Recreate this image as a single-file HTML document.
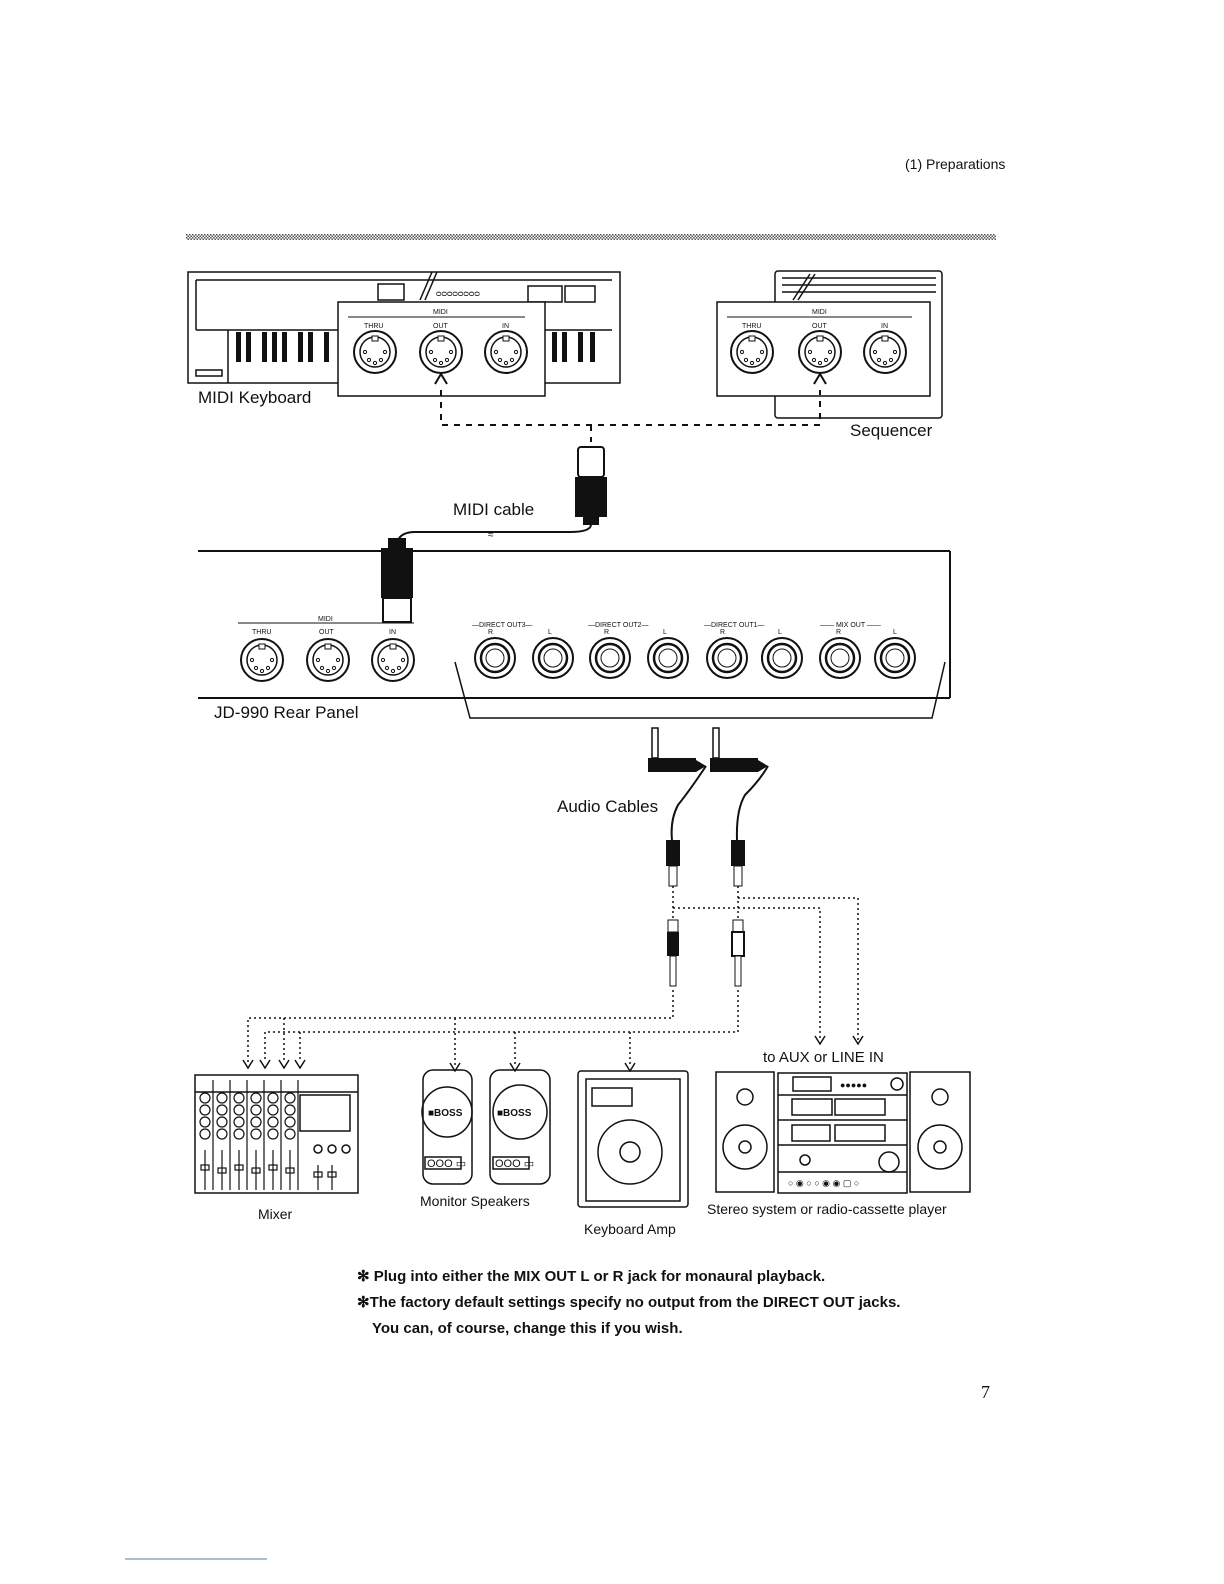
<!DOCTYPE html>
<html><head><meta charset="utf-8"><style>
html,body{margin:0;padding:0;background:#fff;overflow:hidden;width:1224px;height:1584px}
svg{display:block}
text{font-family:"Liberation Sans",sans-serif;fill:#111}
</style></head><body>
<svg width="1224" height="1584" viewBox="0 0 1224 1584" xmlns="http://www.w3.org/2000/svg">
<defs>
<pattern id="hatch" width="3" height="3" patternUnits="userSpaceOnUse"><rect width="3" height="3" fill="#fff"/><rect width="1.5" height="1.5" fill="#555"/><rect x="1.5" y="1.5" width="1.5" height="1.5" fill="#555"/></pattern>
<g id="din"><circle r="21" fill="#fff" stroke="#111" stroke-width="2"/><circle r="15" fill="none" stroke="#111" stroke-width="1.5"/><rect x="-3" y="-16" width="6" height="5" fill="#fff" stroke="#111"/><circle cx="-10" cy="0" r="1.6" fill="none" stroke="#111"/><circle cx="10" cy="0" r="1.6" fill="none" stroke="#111"/><circle cx="-6" cy="8" r="1.6" fill="none" stroke="#111"/><circle cx="6" cy="8" r="1.6" fill="none" stroke="#111"/><circle cx="0" cy="11" r="1.6" fill="none" stroke="#111"/></g>
<g id="jack"><circle r="20" fill="#fff" stroke="#111" stroke-width="2"/><circle r="14" fill="none" stroke="#111" stroke-width="2.5"/><circle r="9" fill="none" stroke="#111" stroke-width="1"/></g>
</defs>
<text x="905" y="169" font-size="14">(1)  Preparations</text>
<rect x="186" y="234" width="810" height="6" fill="url(#hatch)"/>

<g fill="none" stroke="#111" stroke-width="1.5">
<rect x="188" y="272" width="432" height="111"/>
<line x1="196" y1="280" x2="612" y2="280"/><line x1="196" y1="280" x2="196" y2="330"/>
<line x1="196" y1="330" x2="338" y2="330"/>
<rect x="378" y="284" width="26" height="16"/><rect x="528" y="286" width="34" height="16"/><rect x="565" y="286" width="30" height="16"/>
<line x1="228" y1="330" x2="228" y2="383"/>
<rect x="196" y="370" width="26" height="6"/>
<line x1="420" y1="300" x2="432" y2="272"/><line x1="425" y1="300" x2="437" y2="272"/>
<line x1="545" y1="330" x2="612" y2="330"/>
</g>
<g fill="#111">
<rect x="236" y="332" width="5" height="30"/><rect x="246" y="332" width="5" height="30"/><rect x="262" y="332" width="5" height="30"/><rect x="272" y="332" width="5" height="30"/><rect x="282" y="332" width="5" height="30"/><rect x="298" y="332" width="5" height="30"/><rect x="308" y="332" width="5" height="30"/><rect x="324" y="332" width="5" height="30"/>
<rect x="552" y="332" width="5" height="30"/><rect x="562" y="332" width="5" height="30"/><rect x="578" y="332" width="5" height="30"/><rect x="590" y="332" width="5" height="30"/>
</g>
<text x="436" y="296" font-size="9">ᴑᴑᴑᴑᴑᴑᴑᴑ</text>
<rect x="338" y="302" width="207" height="94" fill="#fff" stroke="#111" stroke-width="1.5"/>
<line x1="348" y1="317" x2="525" y2="317" stroke="#111"/>
<text x="433" y="314" font-size="7">MIDI</text>
<text x="364" y="328" font-size="7">THRU</text><text x="433" y="328" font-size="7">OUT</text><text x="502" y="328" font-size="7">IN</text>
<use href="#din" x="375" y="352"/><use href="#din" x="441" y="352"/><use href="#din" x="506" y="352"/>
<text x="198" y="403" font-size="17">MIDI Keyboard</text>

<g fill="none" stroke="#111" stroke-width="1.5">
<rect x="775" y="271" width="167" height="147" rx="3"/>
<line x1="782" y1="278" x2="936" y2="278"/><line x1="782" y1="285" x2="936" y2="285"/><line x1="782" y1="292" x2="936" y2="292"/>
<line x1="793" y1="300" x2="810" y2="274"/><line x1="798" y1="300" x2="815" y2="274"/>
</g>
<rect x="717" y="302" width="213" height="94" fill="#fff" stroke="#111" stroke-width="1.5"/>
<line x1="727" y1="317" x2="912" y2="317" stroke="#111"/>
<text x="812" y="314" font-size="7">MIDI</text>
<text x="742" y="328" font-size="7">THRU</text><text x="812" y="328" font-size="7">OUT</text><text x="881" y="328" font-size="7">IN</text>
<use href="#din" x="752" y="352"/><use href="#din" x="820" y="352"/><use href="#din" x="885" y="352"/>
<text x="850" y="436" font-size="17">Sequencer</text>

<g fill="none" stroke="#111" stroke-width="2" stroke-dasharray="6,6">
<polyline points="441,390 441,425 820,425 820,390"/>
<line x1="591" y1="425" x2="591" y2="442"/>
</g>
<path d="M435,384 L441,374 L447,384 M814,384 L820,374 L826,384" fill="none" stroke="#111" stroke-width="2"/>

<rect x="578" y="447" width="26" height="30" rx="3" fill="#fff" stroke="#111" stroke-width="2"/>
<rect x="575" y="477" width="32" height="40" fill="#111"/>
<rect x="583" y="517" width="16" height="8" fill="#111"/>
<text x="453" y="515" font-size="17">MIDI  cable</text>
<path d="M591,525 Q590,532 570,532 L415,532 Q402,532 398,540" fill="none" stroke="#111" stroke-width="2"/>
<text x="488" y="538" font-size="10">≈</text>

<g fill="none" stroke="#111" stroke-width="2">
<line x1="198" y1="551" x2="950" y2="551"/><line x1="950" y1="551" x2="950" y2="698"/>
<line x1="198" y1="698" x2="950" y2="698"/>
<polyline points="455,662 470,718 932,718 945,662" stroke-width="1.5"/>
</g>
<rect x="388" y="538" width="18" height="10" fill="#111"/>
<rect x="381" y="548" width="32" height="50" fill="#111"/>
<rect x="383" y="598" width="28" height="24" fill="#fff" stroke="#111" stroke-width="2"/>
<line x1="238" y1="623" x2="414" y2="623" stroke="#111"/>
<text x="318" y="621" font-size="7">MIDI</text>
<text x="252" y="634" font-size="7">THRU</text><text x="319" y="634" font-size="7">OUT</text><text x="389" y="634" font-size="7">IN</text>
<use href="#din" x="262" y="660"/><use href="#din" x="328" y="660"/><use href="#din" x="393" y="660"/>
<g font-size="7">
<text x="472" y="627">—DIRECT OUT3—</text><text x="488" y="634">R</text><text x="548" y="634">L</text>
<text x="588" y="627">—DIRECT OUT2—</text><text x="604" y="634">R</text><text x="663" y="634">L</text>
<text x="704" y="627">—DIRECT OUT1—</text><text x="720" y="634">R</text><text x="778" y="634">L</text>
<text x="820" y="627">—— MIX OUT ——</text><text x="836" y="634">R</text><text x="893" y="634">L</text>
</g>
<use href="#jack" x="495" y="658"/><use href="#jack" x="553" y="658"/><use href="#jack" x="610" y="658"/><use href="#jack" x="668" y="658"/><use href="#jack" x="727" y="658"/><use href="#jack" x="782" y="658"/><use href="#jack" x="840" y="658"/><use href="#jack" x="895" y="658"/>
<text x="214" y="718" font-size="17">JD-990  Rear Panel</text>

<g stroke="#111" fill="#fff" stroke-width="1.5">
<rect x="652" y="728" width="6" height="30"/><rect x="713" y="728" width="6" height="30"/>
</g>
<rect x="648" y="758" width="48" height="14" fill="#111"/><rect x="710" y="758" width="48" height="14" fill="#111"/>
<path d="M696,760 L706,766 L696,772 M758,760 L768,766 L758,772" fill="#111"/>
<path d="M706,766 Q690,790 678,805 Q670,820 672,840 M768,766 Q760,780 745,795 Q736,810 737,840" fill="none" stroke="#111" stroke-width="2"/>
<text x="557" y="812" font-size="17">Audio  Cables</text>
<rect x="666" y="840" width="14" height="26" fill="#111"/><rect x="731" y="840" width="14" height="26" fill="#111"/>
<rect x="669" y="866" width="8" height="20" fill="#fff" stroke="#111"/><rect x="734" y="866" width="8" height="20" fill="#fff" stroke="#111"/>
<rect x="668" y="920" width="10" height="12" fill="#fff" stroke="#111"/><rect x="733" y="920" width="10" height="12" fill="#fff" stroke="#111"/>
<rect x="667" y="932" width="12" height="24" fill="#111"/><rect x="732" y="932" width="12" height="24" fill="#fff" stroke="#111" stroke-width="2"/>
<rect x="670" y="956" width="6" height="30" fill="#fff" stroke="#111"/><rect x="735" y="956" width="6" height="30" fill="#fff" stroke="#111"/>

<g fill="none" stroke="#111" stroke-width="1.5" stroke-dasharray="2,3">
<line x1="673" y1="886" x2="673" y2="920"/><line x1="738" y1="886" x2="738" y2="920"/>
<polyline points="673,908 820,908 820,1040"/>
<polyline points="738,898 858,898 858,1040"/>
<polyline points="673,990 673,1018 248,1018 248,1062"/>
<polyline points="738,990 738,1032 265,1032 265,1062"/>
<line x1="284" y1="1018" x2="284" y2="1062"/><line x1="300" y1="1032" x2="300" y2="1062"/>
<line x1="455" y1="1018" x2="455" y2="1065"/><line x1="515" y1="1032" x2="515" y2="1065"/><line x1="630" y1="1032" x2="630" y2="1065"/>
</g>
<g fill="none" stroke="#111" stroke-width="1.5">
<path d="M243,1060 L248,1068 L253,1060 M260,1060 L265,1068 L270,1060 M279,1060 L284,1068 L289,1060 M295,1060 L300,1068 L305,1060 M450,1063 L455,1071 L460,1063 M510,1063 L515,1071 L520,1063 M625,1063 L630,1071 L635,1063 M815,1036 L820,1044 L825,1036 M853,1036 L858,1044 L863,1036"/>
</g>
<text x="763" y="1062" font-size="15">to  AUX  or  LINE  IN</text>

<g fill="none" stroke="#111" stroke-width="1.5">
<rect x="195" y="1075" width="163" height="118"/>
<line x1="195" y1="1092" x2="358" y2="1092"/>
<rect x="300" y="1095" width="50" height="36"/>
<circle cx="318" cy="1149" r="4"/><circle cx="332" cy="1149" r="4"/><circle cx="346" cy="1149" r="4"/>
</g>
<g fill="none" stroke="#111" stroke-width="1.2">
<circle cx="205" cy="1098" r="5"/><circle cx="205" cy="1110" r="5"/><circle cx="205" cy="1122" r="5"/><circle cx="205" cy="1134" r="5"/>
<circle cx="222" cy="1098" r="5"/><circle cx="222" cy="1110" r="5"/><circle cx="222" cy="1122" r="5"/><circle cx="222" cy="1134" r="5"/>
<circle cx="239" cy="1098" r="5"/><circle cx="239" cy="1110" r="5"/><circle cx="239" cy="1122" r="5"/><circle cx="239" cy="1134" r="5"/>
<circle cx="256" cy="1098" r="5"/><circle cx="256" cy="1110" r="5"/><circle cx="256" cy="1122" r="5"/><circle cx="256" cy="1134" r="5"/>
<circle cx="273" cy="1098" r="5"/><circle cx="273" cy="1110" r="5"/><circle cx="273" cy="1122" r="5"/><circle cx="273" cy="1134" r="5"/>
<circle cx="290" cy="1098" r="5"/><circle cx="290" cy="1110" r="5"/><circle cx="290" cy="1122" r="5"/><circle cx="290" cy="1134" r="5"/>
<path d="M213,1080 V1190 M230,1080 V1190 M247,1080 V1190 M264,1080 V1190 M281,1080 V1190 M298,1080 V1190"/>
<path d="M205,1150 V1190 M222,1150 V1190 M239,1150 V1190 M256,1150 V1190 M273,1150 V1190 M290,1150 V1190 M318,1165 V1190 M332,1165 V1190"/>
<rect x="201" y="1165" width="8" height="5"/><rect x="218" y="1168" width="8" height="5"/><rect x="235" y="1165" width="8" height="5"/><rect x="252" y="1168" width="8" height="5"/><rect x="269" y="1165" width="8" height="5"/><rect x="286" y="1168" width="8" height="5"/><rect x="314" y="1172" width="8" height="5"/><rect x="328" y="1172" width="8" height="5"/>
</g>
<text x="258" y="1219" font-size="14">Mixer</text>

<g fill="none" stroke="#111" stroke-width="1.5">
<rect x="423" y="1070" width="49" height="114" rx="10"/><rect x="490" y="1070" width="60" height="114" rx="10"/>
<circle cx="447" cy="1112" r="25"/><circle cx="520" cy="1112" r="27"/>
<rect x="425" y="1157" width="36" height="12"/><rect x="493" y="1157" width="36" height="12"/>
</g>
<text x="428" y="1116" font-size="10" font-weight="bold">■BOSS</text><text x="497" y="1116" font-size="10" font-weight="bold">■BOSS</text>
<text x="427" y="1167" font-size="11">OOO ▭</text><text x="495" y="1167" font-size="11">OOO ▭</text>
<text x="420" y="1206" font-size="14">Monitor  Speakers</text>

<g fill="none" stroke="#111" stroke-width="1.5">
<rect x="578" y="1071" width="110" height="136" rx="3"/>
<rect x="586" y="1079" width="94" height="122"/>
<rect x="592" y="1088" width="40" height="18"/>
<circle cx="630" cy="1152" r="32"/><circle cx="630" cy="1152" r="10"/>
</g>
<text x="584" y="1234" font-size="14">Keyboard  Amp</text>

<g fill="none" stroke="#111" stroke-width="1.5">
<rect x="716" y="1072" width="58" height="120"/><circle cx="745" cy="1097" r="8"/><circle cx="745" cy="1147" r="22"/><circle cx="745" cy="1147" r="6"/>
<rect x="910" y="1072" width="60" height="120"/><circle cx="940" cy="1097" r="8"/><circle cx="940" cy="1147" r="22"/><circle cx="940" cy="1147" r="6"/>
<rect x="778" y="1073" width="129" height="120"/>
<line x1="778" y1="1095" x2="907" y2="1095"/><line x1="778" y1="1120" x2="907" y2="1120"/><line x1="778" y1="1145" x2="907" y2="1145"/><line x1="778" y1="1172" x2="907" y2="1172"/>
<rect x="793" y="1077" width="38" height="14"/><rect x="792" y="1099" width="40" height="16"/><rect x="835" y="1099" width="50" height="16"/><rect x="792" y="1125" width="38" height="16"/><rect x="835" y="1125" width="50" height="16"/>
<circle cx="897" cy="1084" r="6"/><circle cx="889" cy="1162" r="10"/><circle cx="805" cy="1160" r="5"/>
</g>
<text x="840" y="1088" font-size="9">●●●●●</text>
<text x="788" y="1186" font-size="9">○ ◉ ○ ○ ◉ ◉ ▢ ○</text>
<text x="707" y="1214" font-size="14">Stereo  system  or  radio-cassette  player</text>

<g font-size="15" font-weight="bold">
<text x="357" y="1281">✻ Plug into either the MIX OUT L or R jack for monaural playback.</text>
<text x="357" y="1307">✻The factory default settings specify no output from the DIRECT OUT jacks.</text>
<text x="372" y="1333">You can, of course, change this if you wish.</text>
</g>
<text x="981" y="1398" font-size="18" style="font-family:'Liberation Serif',serif">7</text>
<line x1="125" y1="1559" x2="267" y2="1559" stroke="#5577aa" stroke-width="1"/>
</svg>
</body></html>
